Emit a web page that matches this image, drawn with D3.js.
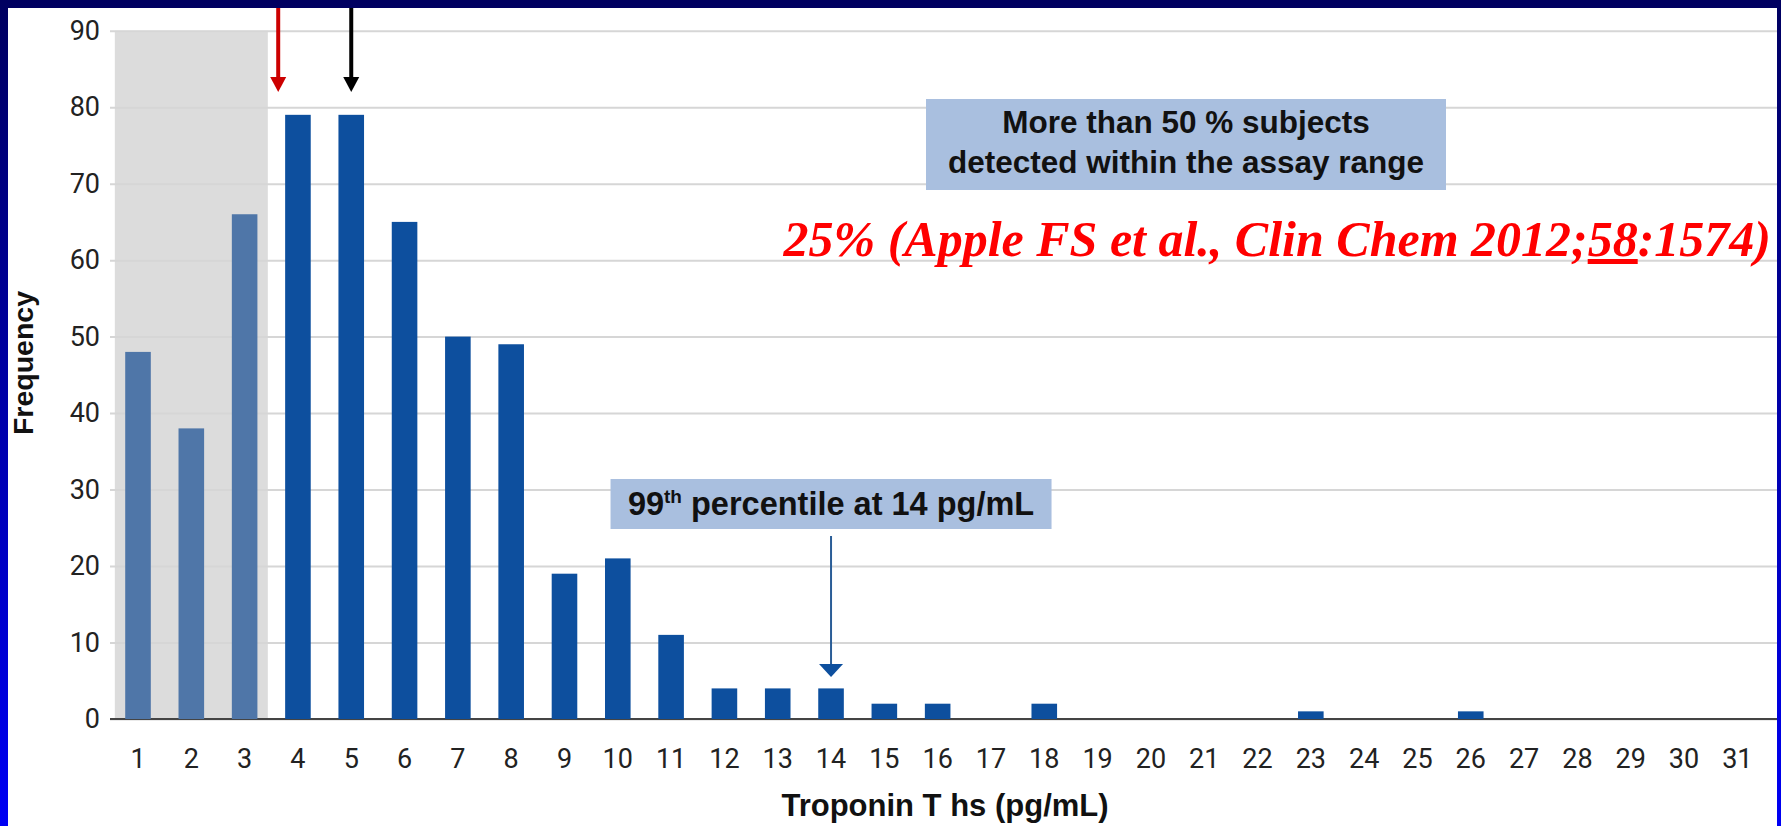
<!DOCTYPE html>
<html>
<head>
<meta charset="utf-8">
<script src="https://cdn.jsdelivr.net/npm/d3@7/dist/d3.min.js"></script>
<style>
  html, body { margin: 0; padding: 0; background: #000066; }
  svg { display: block; }
  text { font-family: "Liberation Sans", Arial, sans-serif; }
</style>
</head>
<body>
<svg id="chart" width="1781" height="826"></svg>
<script>
// Troponin T hs bins (pg/mL) and subject counts per bin
const troponinBins = [1,2,3,4,5,6,7,8,9,10,11,12,13,14,15,16,17,18,19,20,21,22,23,24,25,26,27,28,29,30,31];
const frequencies  = [48,38,66,79,79,65,50,49,19,21,11,4,4,4,2,2,0,2,0,0,0,0,1,0,0,1,0,0,0,0,0];
const yTicks = [0,10,20,30,40,50,60,70,80,90];
// bins below the limit of detection (shaded)
const belowRangeBins = [1,2,3];
// detection-limit markers along the concentration axis
const limitMarkers = [
  { value: 3.63, color: "#cc0000" },
  { value: 5, color: "#000000" }
];
const percentileBin = 14;
const rangeNote = ["More than 50 % subjects", "detected within the assay range"];
const citation = { before: "25% (Apple FS et al., Clin Chem 2012;", volume: "58", after: ":1574)" };

const W = 1781, H = 826;
const svg = d3.select("#chart");

// slide background: vertical blue gradient with a white panel
const defs = svg.append("defs");
const grad = defs.append("linearGradient").attr("id", "slideBg")
  .attr("x1", 0).attr("y1", 0).attr("x2", 0).attr("y2", 1);
grad.append("stop").attr("offset", "0%").attr("stop-color", "#000060");
grad.append("stop").attr("offset", "100%").attr("stop-color", "#0000f4");
svg.append("rect").attr("width", W).attr("height", H).attr("fill", "url(#slideBg)");
const panel = { left: 8, top: 8, right: 1777 };
svg.append("rect").attr("x", panel.left).attr("y", panel.top)
  .attr("width", panel.right - panel.left).attr("height", H - panel.top).attr("fill", "#ffffff");

const plotLeft = 110;
const x = d3.scaleBand().domain(troponinBins)
  .range([111.35, 1763.96]).paddingInner(0.52).paddingOuter(0.26);
const y = d3.scaleLinear().domain([0, 90]).range([719, 30.7]);
// continuous position along the bin axis (bin centres)
const xv = v => x(troponinBins[0]) + x.bandwidth() / 2 + (v - troponinBins[0]) * x.step();

// shaded region behind bins below the detection range
const shadePad = 10.4;
svg.append("rect")
  .attr("x", x(belowRangeBins[0]) - shadePad)
  .attr("y", y(90))
  .attr("width", x(belowRangeBins[belowRangeBins.length - 1]) + x.bandwidth() + shadePad - (x(belowRangeBins[0]) - shadePad))
  .attr("height", y(0) - y(90))
  .attr("fill", "#dcdcdc");

const tickFont = "Roboto, 'Liberation Sans', sans-serif";

// y axis with gridlines
const yAxis = svg.append("g").attr("transform", `translate(${plotLeft},0)`)
  .call(d3.axisLeft(y).tickValues(yTicks).tickSize(-(panel.right - plotLeft)).tickPadding(10));
yAxis.select(".domain").remove();
yAxis.selectAll(".tick line").attr("stroke", "#d6d6d6").attr("stroke-width", 2);
yAxis.selectAll(".tick text").attr("fill", "#222").style("font-size", "27px")
  .style("font-family", tickFont);

// baseline
svg.append("line").attr("x1", plotLeft).attr("x2", panel.right)
  .attr("y1", y(0)).attr("y2", y(0)).attr("stroke", "#444").attr("stroke-width", 2);

// x axis labels
const xAxis = svg.append("g").attr("transform", `translate(0,${y(0)})`)
  .call(d3.axisBottom(x).tickSize(0).tickPadding(30));
xAxis.select(".domain").remove();
xAxis.selectAll(".tick text").attr("fill", "#222").style("font-size", "27px")
  .style("font-family", tickFont);

// bars
svg.append("g").selectAll("rect")
  .data(troponinBins.map((b, i) => ({ bin: b, n: frequencies[i] })).filter(d => d.n > 0))
  .join("rect")
  .attr("x", d => x(d.bin))
  .attr("y", d => y(d.n))
  .attr("width", x.bandwidth())
  .attr("height", d => y(0) - y(d.n))
  .attr("fill", d => belowRangeBins.includes(d.bin) ? "#4f76a8" : "#0d4f9e");

// detection-limit arrows from the top edge
limitMarkers.forEach(m => {
  const cx = xv(m.value);
  svg.append("line").attr("x1", cx).attr("x2", cx).attr("y1", panel.top).attr("y2", 80)
    .attr("stroke", m.color).attr("stroke-width", 4);
  svg.append("path")
    .attr("d", `M${cx - 8},77 L${cx + 8},77 L${cx},92 Z`)
    .attr("fill", m.color);
});

// assay range note
const note = { cx: 1186, top: 99, bottom: 190, left: 926, right: 1446 };
svg.append("rect").attr("x", note.left).attr("y", note.top)
  .attr("width", note.right - note.left).attr("height", note.bottom - note.top)
  .attr("fill", "#a9bfdf");
svg.append("text").attr("x", note.cx).attr("y", 133).attr("text-anchor", "middle")
  .style("font-size", "31.5px").style("font-weight", "bold").attr("fill", "#111")
  .text(rangeNote[0]);
svg.append("text").attr("x", note.cx).attr("y", 173).attr("text-anchor", "middle")
  .style("font-size", "31.5px").style("font-weight", "bold").attr("fill", "#111")
  .text(rangeNote[1]);

// citation
const cite = svg.append("text").attr("x", 1771).attr("y", 256).attr("text-anchor", "end")
  .attr("fill", "#ff0000")
  .style("font-family", "'Liberation Serif', 'Times New Roman', serif")
  .style("font-size", "50px").style("font-weight", "bold").style("font-style", "italic");
cite.append("tspan").text(citation.before);
cite.append("tspan").style("text-decoration", "underline").text(citation.volume);
cite.append("tspan").text(citation.after);

// 99th percentile annotation
const pc = xv(percentileBin);
const pBox = { top: 479, bottom: 529, halfWidth: 220.5 };
svg.append("rect").attr("x", pc - pBox.halfWidth).attr("y", pBox.top)
  .attr("width", 2 * pBox.halfWidth).attr("height", pBox.bottom - pBox.top)
  .attr("fill", "#a9bfdf");
const pText = svg.append("text").attr("x", pc).attr("y", 515).attr("text-anchor", "middle")
  .style("font-size", "32.5px").style("font-weight", "bold").attr("fill", "#111");
pText.append("tspan").text("99");
pText.append("tspan").attr("dy", -12).style("font-size", "19px").text("th");
pText.append("tspan").attr("dy", 12).text(" percentile at 14 pg/mL");
svg.append("line").attr("x1", pc).attr("x2", pc).attr("y1", 536).attr("y2", 666)
  .attr("stroke", "#2a5d97").attr("stroke-width", 2);
svg.append("path").attr("d", `M${pc - 12},664 L${pc + 12},664 L${pc},677 Z`).attr("fill", "#0d4f9e");

// axis titles
svg.append("text").attr("transform", "translate(33,363) rotate(-90)")
  .attr("text-anchor", "middle").style("font-size", "28.5px").style("font-weight", "bold")
  .attr("fill", "#111").text("Frequency");
svg.append("text").attr("x", 945).attr("y", 816).attr("text-anchor", "middle")
  .style("font-size", "31px").style("font-weight", "bold").attr("fill", "#111")
  .text("Troponin T hs (pg/mL)");
</script>
</body>
</html>
